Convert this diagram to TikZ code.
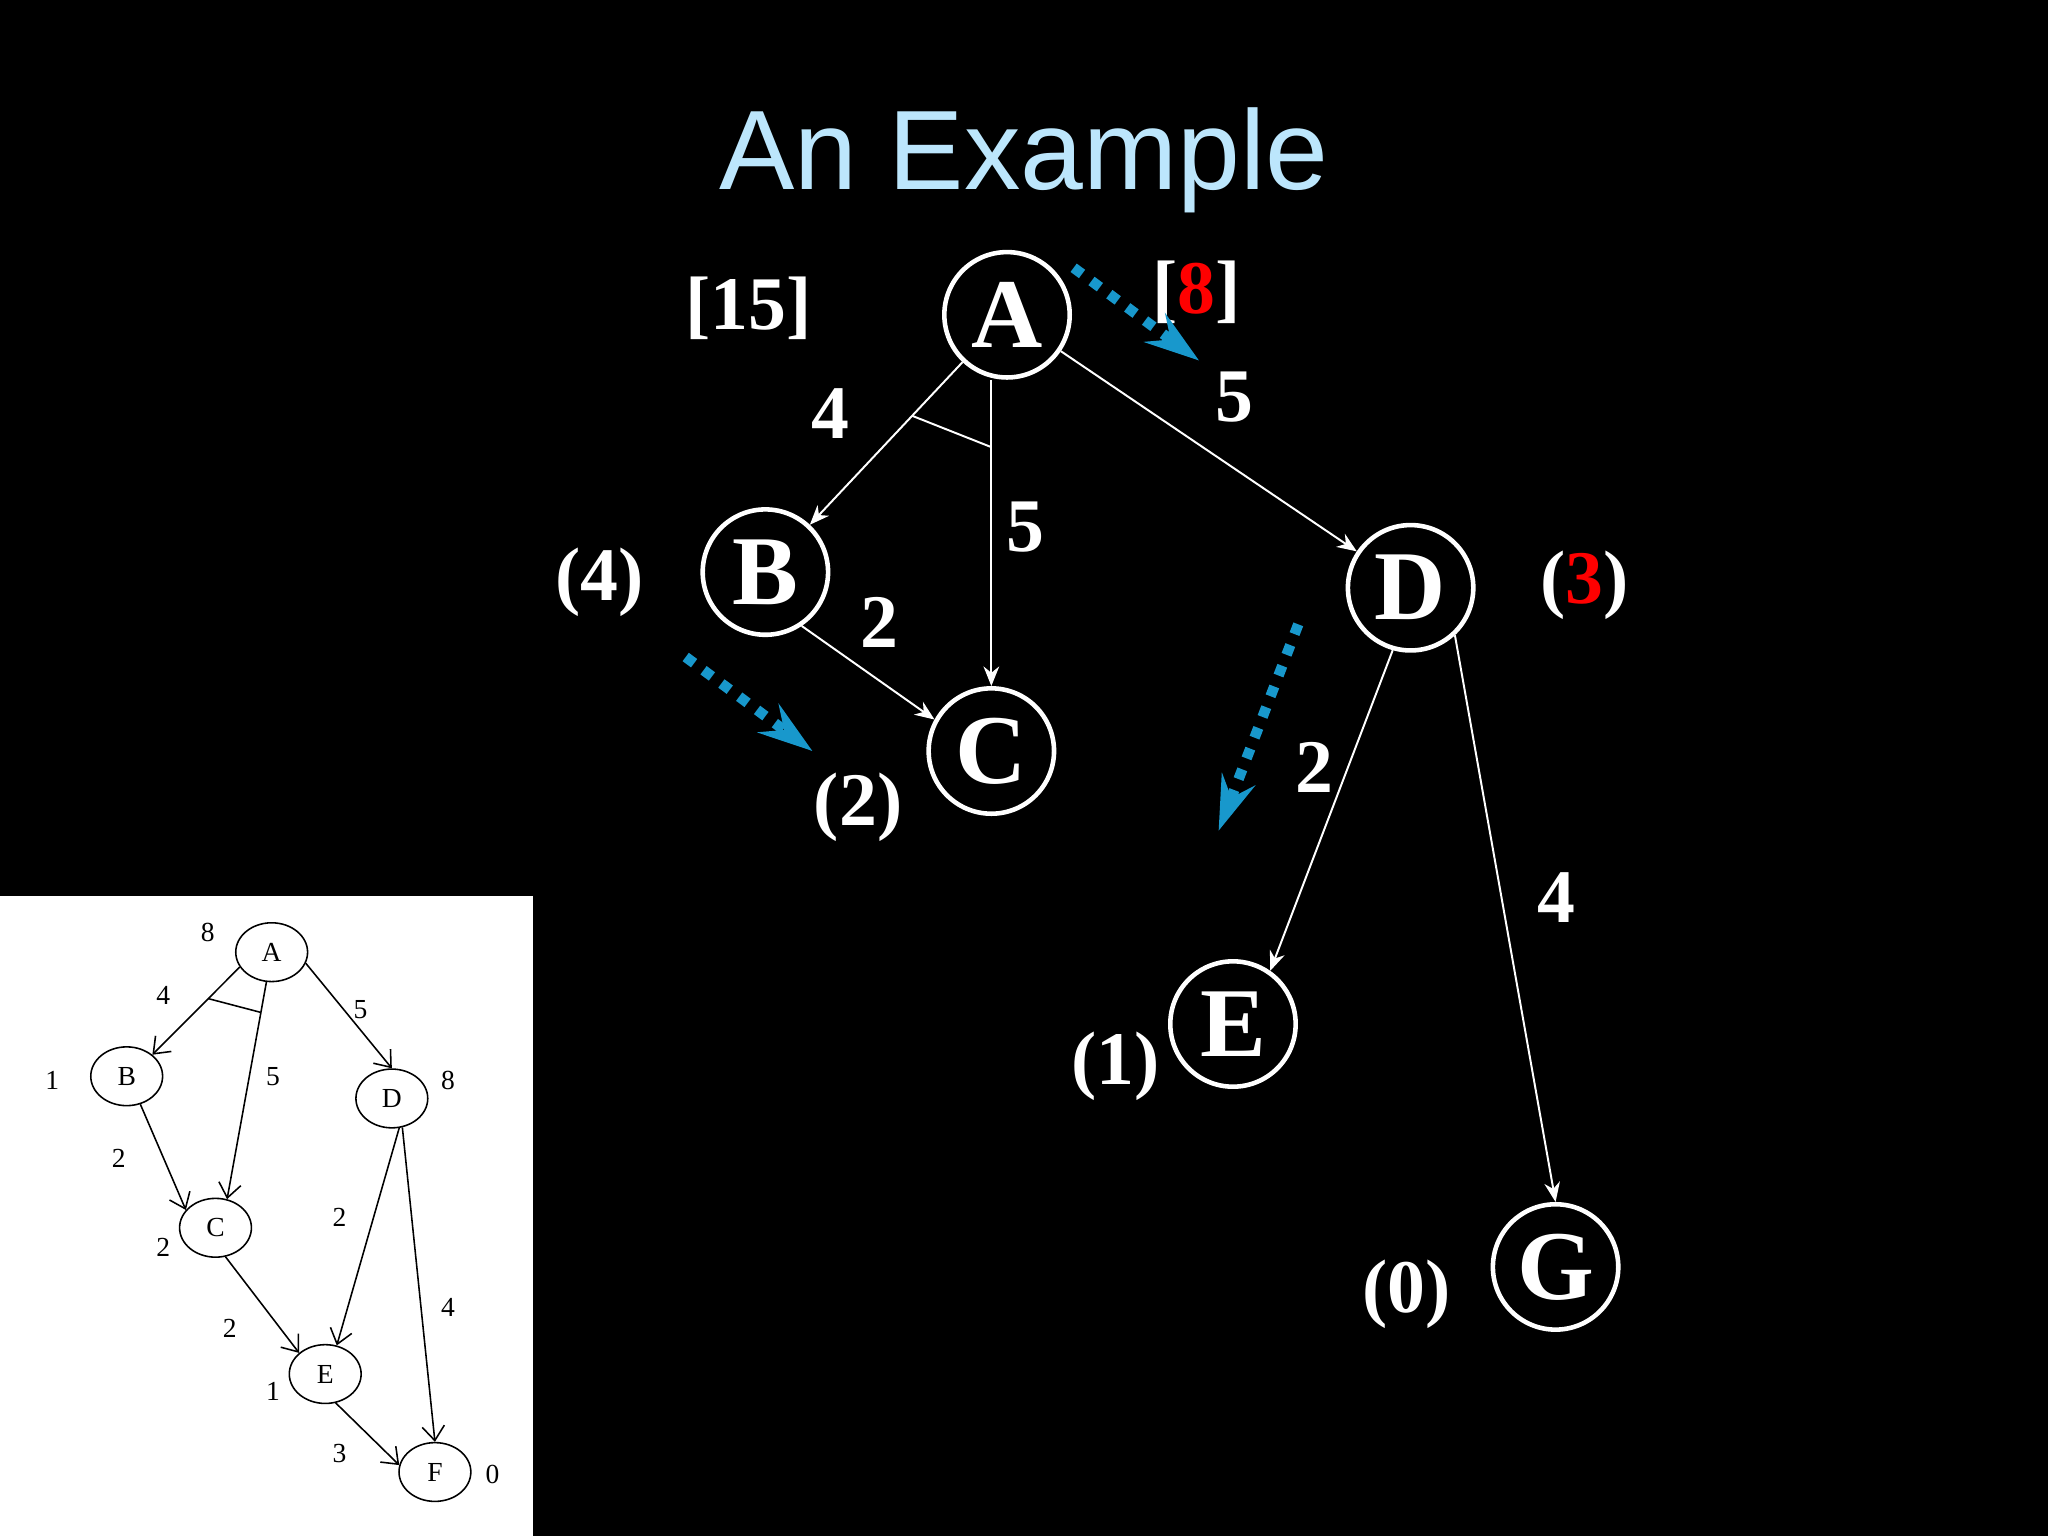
\documentclass[tikz,border=0pt]{standalone}
\usepackage{fontspec}
\setmainfont{Liberation Serif}
\newfontfamily\tieude{Liberation Sans}
\usetikzlibrary{arrows.meta,shapes.geometric,calc}
\definecolor{xanhnhat}{RGB}{188,230,252}
\definecolor{xanhdam}{RGB}{24,152,204}
\begin{document}
\begin{tikzpicture}[x=0.1mm,y=-0.1mm,line join=round,
	dinh/.style={circle,draw=white,line width=0.35mm,minimum size=9.6mm,inner sep=0pt,text=white,font=\fontsize{21.5}{22}\selectfont\bfseries},
	so/.style={text=white,font=\fontsize{16.5}{17}\selectfont\bfseries,anchor=base,inner sep=0pt},
	canh/.style={draw=white,line width=0.15mm,-{Stealth[length=1.5mm,width=1.2mm]}},
	goiy/.style={draw=xanhdam,line width=0.8mm,dash pattern=on 0.8mm off 0.9mm,-{Stealth[length=4.2mm,width=2.7mm,inset=1.5mm]}},
	dinhnho/.style={ellipse,draw=black,line width=0.12mm,minimum width=5.5mm,minimum height=4.5mm,inner sep=0pt,font=\fontsize{6}{7}\selectfont},
	sonho/.style={text=black,font=\fontsize{6}{7}\selectfont,inner sep=0pt},
	canhnho/.style={draw=black,line width=0.12mm,-{Straight Barb[length=1.1mm,width=1.7mm]}}]
	\fill[black] (0,0) rectangle (1568,1176);
	\useasboundingbox (0,0) rectangle (1568,1176);
	\node[anchor=base,text=xanhnhat,font=\tieude\fontsize{24.6}{26}\selectfont] (tieude) at (784,145) {An Example};
	% Đồ thị chính
	\node[dinh] (A) at (771,241) {A};
	\node[dinh] (B) at (586,438) {B};
	\node[dinh] (C) at (759,575) {C};
	\node[dinh] (D) at (1080,450) {D};
	\node[dinh] (E) at (944,784) {E};
	\node[dinh] (G) at (1191,970) {G};
	\draw[canh] (A) -- coordinate[pos=0.33] (ab) (B);
	\draw[canh] (A.south -| C) -- coordinate[pos=0.22] (ac) (C);
	\draw[white,line width=0.15mm] (ab) -- (ac);
	\draw[canh] (A) -- (D);
	\draw[canh] (B.-56) -- (C.151);
	\draw[canh] (D.-106) -- (E.55);
	\draw[canh] (D.-47) -- (G.north);
	\node[so] (wAB) at (636,336) {4};
	\node[so] (wAC) at (785,422) {5};
	\node[so] (wAD) at (945,323) {5};
	\node[so] (wBC) at (673,496) {2};
	\node[so] (wDE) at (1006,607) {2};
	\node[so] (wDG) at (1192,706) {4};
	\node[so] (fA) at (573,252) {[15]};
	\node[so] (fA2) at (916,240) {[\textcolor{red}{8}]};
	\node[so] (hB) at (459,460) {(4)};
	\node[so] (hC) at (657,632) {(2)};
	\node[so] (hD) at (1213,462) {(\textcolor{red}{3})};
	\node[so] (hE) at (854,830) {(1)};
	\node[so] (hG) at (1077,1005) {(0)};
	\coordinate (g1a) at (822,205); \coordinate (g1b) at (918,276);
	\coordinate (g2a) at (525,503); \coordinate (g2b) at (622,575);
	\coordinate (g3a) at (994,478); \coordinate (g3b) at (933,636);
	\draw[goiy] (g1a) -- (g1b);
	\draw[goiy] (g2a) -- (g2b);
	\draw[goiy] (g3a) -- (g3b);
	% Hình nhỏ
	\fill[white] (0,686) rectangle (408,1176);
	\node[dinhnho] (nA) at (208,729) {A};
	\node[dinhnho] (nB) at (97,824) {B};
	\node[dinhnho] (nC) at (165,940) {C};
	\node[dinhnho] (nD) at (300,841) {D};
	\node[dinhnho] (nE) at (249,1052) {E};
	\node[dinhnho] (nF) at (333,1127) {F};
	\draw[canhnho] (nA.205) -- coordinate[pos=0.36] (nab) (nB.40);
	\draw[canhnho] (nA.-100) -- coordinate[pos=0.14] (nac) (nC.68);
	\draw[black,line width=0.12mm] (nab) -- (nac);
	\draw[canhnho] (nA.-18) -- (nD.north);
	\draw[canhnho] (nB.-64) -- (nC.149);
	\draw[canhnho] (nC.-71) -- (nE.141);
	\draw[canhnho] (nD.-76) -- (nE.68);
	\draw[canhnho] (nD.-70) -- (nF.north);
	\draw[canhnho] (nE.-70) -- (nF.169);
	\node[sonho] (nhA) at (159,714) {8};
	\node[sonho] (nhB) at (40,827) {1};
	\node[sonho] (nhC) at (125,955) {2};
	\node[sonho] (nhD) at (343,827) {8};
	\node[sonho] (nhE) at (209,1065) {1};
	\node[sonho] (nhF) at (377,1129) {0};
	\node[sonho] (nwAB) at (125,762) {4};
	\node[sonho] (nwAC) at (209,824) {5};
	\node[sonho] (nwAD) at (276,773) {5};
	\node[sonho] (nwBC) at (91,887) {2};
	\node[sonho] (nwDE) at (260,932) {2};
	\node[sonho] (nwCE) at (176,1017) {2};
	\node[sonho] (nwDF) at (343,1001) {4};
	\node[sonho] (nwEF) at (260,1113) {3};
\end{tikzpicture}
\end{document}
